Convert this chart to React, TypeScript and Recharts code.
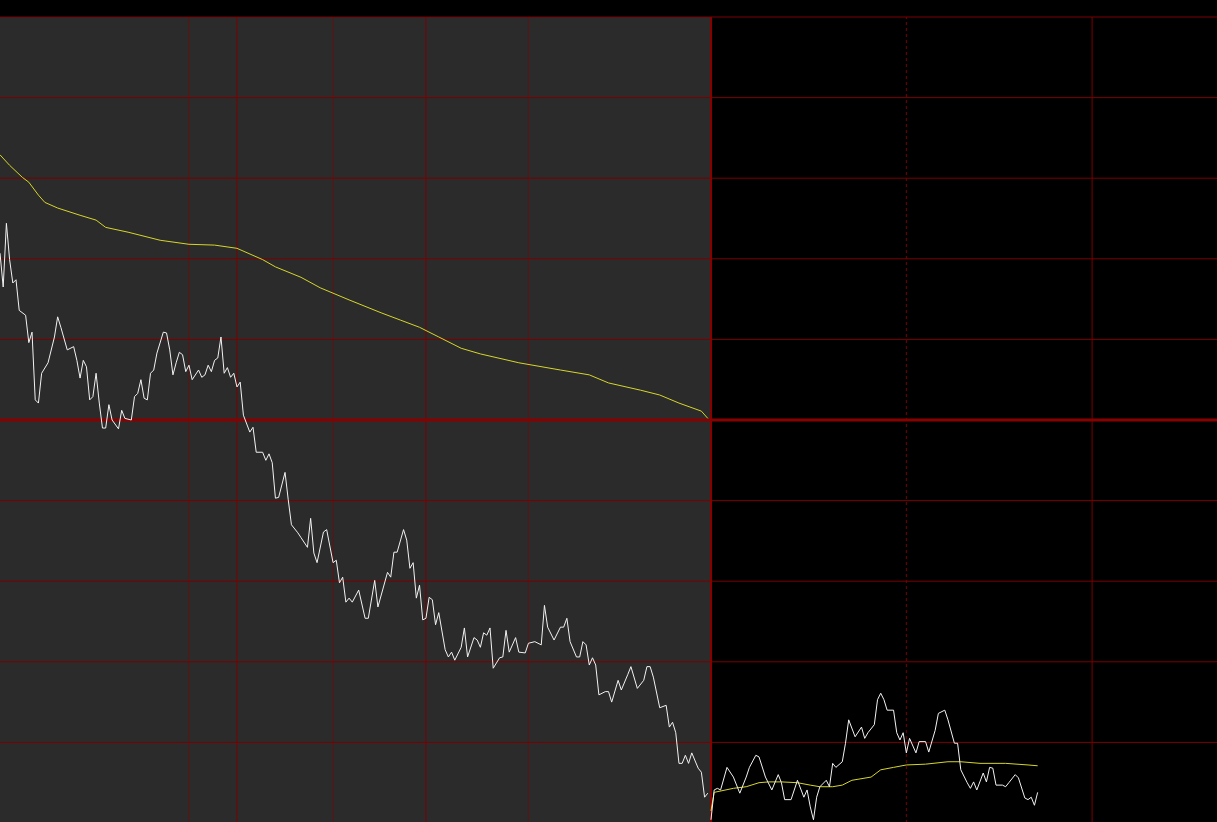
import { LineChart, Line, XAxis, YAxis, ReferenceLine, ReferenceArea } from 'recharts'

// minutes are counted from the left edge of the visible window; today opens at minute 222
const SESSION_OPEN = 222
const X_MAX = 380

// % change vs. previous close, one grid line per 1%
const pctTicks = [5, 4, 3, 2, 1, 0, -1, -2, -3, -4, -5]

// vertical time marks
const prevDayMarks = [59, 74, 104, 133, 165]
const prevDayMajor = [74, 133]
const todayMarks = [283, 341]
const todayDashed = [283]

// previous session - price
const prevMin = [
  0, 1, 2, 3, 4, 5, 6, 8, 9, 10, 11, 12, 13, 15, 17, 18, 19, 21, 23, 24,
  25, 26, 27, 28, 29, 30, 31, 32, 33, 34, 35, 37, 38, 39, 41, 42, 43, 44, 45, 46,
  47, 48, 49, 51, 52, 53, 54, 55, 56, 57, 58, 59, 60, 62, 63, 64, 65, 66, 67, 68,
  69, 70, 71, 72, 73, 74, 75, 76, 78, 79, 80, 82, 83, 84, 85, 86, 87, 89, 90, 91,
  93, 94, 96, 97, 98, 99, 101, 102, 104, 105, 106, 107, 108, 109, 110, 112, 114, 115, 117, 118,
  121, 122, 123, 124, 126, 127, 128, 129, 130, 131, 132, 133, 134, 135, 136, 137, 139, 140, 141, 142,
  144, 145, 146, 148, 149, 150, 151, 152, 153, 154, 156, 157, 158, 159, 161, 162, 164, 165, 167, 169,
  170, 171, 173, 175, 176, 177, 178, 180, 181, 182, 183, 184, 185, 186, 187, 189, 190, 191, 193, 194,
  196, 197, 199, 201, 202, 203, 204, 206, 208, 209, 210, 211, 212, 213, 214, 215, 216, 218, 219, 220,
  221,
]
const prevPrice = [
  2.07, 1.65, 2.44, 1.99, 1.70, 1.74, 1.36, 1.30, 0.96, 1.09, 0.25, 0.21, 0.58, 0.71, 1.03, 1.28, 1.15, 0.87, 0.91, 0.74,
  0.52, 0.74, 0.66, 0.25, 0.29, 0.58, 0.21, -0.10, -0.10, 0.19, 0.00, -0.11, 0.12, 0.02, 0.00, 0.29, 0.33, 0.50, 0.27, 0.25,
  0.58, 0.62, 0.83, 1.09, 1.08, 0.87, 0.56, 0.71, 0.84, 0.81, 0.60, 0.68, 0.50, 0.62, 0.53, 0.56, 0.68, 0.60, 0.74, 0.77,
  1.03, 0.58, 0.65, 0.53, 0.58, 0.41, 0.47, 0.06, -0.15, -0.09, -0.40, -0.40, -0.50, -0.42, -0.53, -0.97, -0.96, -0.65, -0.99, -1.30,
  -1.40, -1.46, -1.58, -1.22, -1.65, -1.77, -1.39, -1.36, -1.77, -1.74, -2.02, -1.95, -2.26, -2.21, -2.26, -2.11, -2.46, -2.46, -1.99, -2.32,
  -1.89, -1.95, -1.64, -1.64, -1.36, -1.49, -1.84, -1.77, -2.21, -2.05, -2.48, -2.46, -2.20, -2.23, -2.54, -2.39, -2.85, -2.94, -2.88, -2.98,
  -2.82, -2.58, -2.94, -2.70, -2.73, -2.82, -2.64, -2.67, -2.58, -3.08, -2.95, -2.94, -2.61, -2.88, -2.70, -2.88, -2.89, -2.77, -2.75, -2.79,
  -2.30, -2.57, -2.73, -2.57, -2.57, -2.46, -2.75, -2.94, -2.94, -2.75, -2.79, -3.04, -2.95, -3.04, -3.41, -3.37, -3.37, -3.50, -3.23, -3.35,
  -3.16, -3.06, -3.33, -3.23, -3.06, -3.06, -3.19, -3.57, -3.54, -3.81, -3.75, -3.88, -4.26, -4.26, -4.16, -4.26, -4.13, -4.32, -4.37, -4.68,
  -4.63,
]

// previous session - average price
const prevAvgMin = [0, 3, 7, 9, 12, 14, 18, 25, 30, 33, 40, 50, 59, 67, 74, 82, 86, 94, 100, 109, 119, 125, 131, 137, 144, 150, 162, 175, 184, 190, 200, 206, 212, 219, 221]
const prevAvg = [3.29, 3.16, 3.01, 2.95, 2.79, 2.70, 2.63, 2.54, 2.48, 2.39, 2.33, 2.23, 2.18, 2.17, 2.13, 1.99, 1.90, 1.77, 1.64, 1.49, 1.33, 1.24, 1.15, 1.03, 0.89, 0.82, 0.71, 0.62, 0.56, 0.46, 0.37, 0.31, 0.21, 0.11, 0.02]

// today - price
const todayMin = [
  222, 223, 224, 225, 227, 229, 231, 233, 234, 236, 237, 239, 241, 243, 244, 245, 247, 249, 251, 252,
  253, 254, 255, 256, 258, 259, 260, 261, 263, 264, 265, 267, 269, 270, 271, 273, 274, 275, 276, 277,
  279, 280, 281, 282, 283, 284, 286, 287, 289, 290, 292, 293, 295, 296, 298, 299, 300, 302, 303, 304,
  305, 307, 308, 309, 310, 311, 313, 314, 315, 317, 318, 320, 321, 322, 323, 324,
]
const todayPrice = [
  -4.96, -4.59, -4.57, -4.59, -4.31, -4.43, -4.63, -4.43, -4.31, -4.16, -4.18, -4.43, -4.59, -4.40, -4.50, -4.71, -4.71, -4.47, -4.68, -4.59,
  -4.80, -4.96, -4.68, -4.55, -4.47, -4.55, -4.26, -4.31, -4.24, -4.01, -3.72, -3.93, -3.81, -3.95, -3.88, -3.78, -3.47, -3.39, -3.47, -3.60,
  -3.60, -3.88, -3.97, -3.88, -4.13, -3.95, -4.13, -3.99, -3.99, -4.12, -3.85, -3.64, -3.60, -3.72, -4.01, -4.01, -4.34, -4.50, -4.57, -4.49,
  -4.59, -4.38, -4.49, -4.31, -4.32, -4.53, -4.53, -4.55, -4.50, -4.40, -4.44, -4.69, -4.71, -4.68, -4.78, -4.62,
]

// today - average price
const todayAvgMin = [222, 223, 229, 233, 237, 240, 244, 249, 253, 256, 260, 263, 266, 272, 275, 279, 283, 289, 296, 300, 306, 314, 321, 324]
const todayAvg = [-4.85, -4.62, -4.57, -4.55, -4.50, -4.49, -4.49, -4.50, -4.53, -4.55, -4.55, -4.53, -4.47, -4.43, -4.34, -4.31, -4.28, -4.27, -4.24, -4.24, -4.26, -4.26, -4.28, -4.29]

const toRows = (mins: number[], vals: number[]) => mins.map((m, i) => ({ m, v: vals[i] }))

const GRID = '#7c0000'
const GRID_DIM = '#5c1414'

export default function App() {
  const prevRows = toRows(prevMin, prevPrice)
  const prevAvgRows = toRows(prevAvgMin, prevAvg)
  const todayRows = toRows(todayMin, todayPrice)
  const todayAvgRows = toRows(todayAvgMin, todayAvg)

  return (
    <div style={{ position: 'fixed', left: 0, top: 0, width: 1217, height: 822, background: '#000', overflow: 'hidden' }}>
      <div style={{ position: 'absolute', left: 0, top: 16 }}>
        <LineChart width={1217} height={808} margin={{ top: 1, right: 0, bottom: 1, left: 0 }}>
          <XAxis dataKey="m" type="number" domain={[0, X_MAX]} hide allowDataOverflow />
          <YAxis type="number" domain={[-5, 5]} hide allowDataOverflow />

          {/* previous session background */}
          <ReferenceArea x1={0} x2={SESSION_OPEN} y1={-5} y2={5} fill="#2b2b2b" fillOpacity={1} stroke="none" />

          {prevDayMarks.map(m => (
            <ReferenceLine key={'p' + m} x={m} stroke={prevDayMajor.includes(m) ? GRID : GRID_DIM} strokeWidth={1} />
          ))}
          {todayMarks.map(m => (
            <ReferenceLine
              key={'t' + m}
              x={m}
              stroke={GRID}
              strokeWidth={1}
              strokeDasharray={todayDashed.includes(m) ? '3 3' : undefined}
            />
          ))}
          {pctTicks.map(t => (
            <ReferenceLine key={'y' + t} y={t} stroke={t === 0 ? '#8a0000' : GRID} strokeWidth={t === 0 ? 3 : 1} />
          ))}
          <ReferenceLine x={SESSION_OPEN} stroke="#8a0000" strokeWidth={2} />

          <Line data={prevAvgRows} dataKey="v" type="linear" stroke="#d6d62a" strokeWidth={1} dot={false} isAnimationActive={false} />
          <Line data={prevRows} dataKey="v" type="linear" stroke="#f2f2f2" strokeWidth={1} dot={false} isAnimationActive={false} />
          <Line data={todayAvgRows} dataKey="v" type="linear" stroke="#d6d62a" strokeWidth={1} dot={false} isAnimationActive={false} />
          <Line data={todayRows} dataKey="v" type="linear" stroke="#f2f2f2" strokeWidth={1} dot={false} isAnimationActive={false} />
        </LineChart>
      </div>
    </div>
  )
}
